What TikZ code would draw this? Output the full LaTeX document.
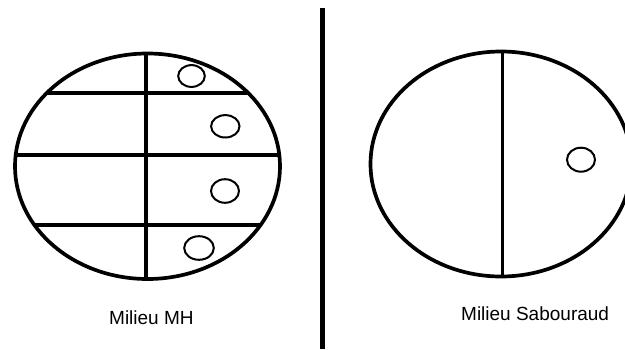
\documentclass[tikz,border=0pt]{standalone}
\usepackage{fontspec}
\setmainfont{Liberation Sans}
\begin{document}
\begin{tikzpicture}[x=1pt,y=-1pt,
  plate/.style={line width=3.7pt},
  colony/.style={line width=2pt},
  label/.style={font=\fontsize{19}{22}\selectfont, inner sep=0pt}]
\useasboundingbox (0,0) rectangle (625,349);
\fill[white] (0,0) rectangle (625,349);
% left plate (Milieu MH)
\begin{scope}
  \clip (147.5,166.25) ellipse [x radius=132.5, y radius=112.75];
  \draw[plate] (146,40) -- (146,300);
  \draw[plate] (0,93) -- (300,93);
  \draw[plate] (0,155) -- (300,155);
  \draw[plate] (0,225) -- (300,225);
\end{scope}
\draw[plate] (147.5,166.25) ellipse [x radius=132.5, y radius=112.75];
\draw[colony] (191.5,76) ellipse [x radius=13.3, y radius=10.9];
\draw[colony] (225.3,126.3) ellipse [x radius=14.2, y radius=11.2];
\draw[colony] (225,191) ellipse [x radius=14, y radius=11.8];
\draw[colony] (199,248) ellipse [x radius=14.8, y radius=11.8];
% divider
\draw[line width=4.3pt] (322.5,8) -- (322.5,349);
% right plate (Milieu Sabouraud)
\begin{scope}
  \clip (501,164) ellipse [x radius=130.5, y radius=112.5];
  \draw[plate] (502.5,40) -- (502.5,300);
\end{scope}
\draw[plate] (501,164) ellipse [x radius=130.5, y radius=112.5];
\draw[colony] (581,159.7) ellipse [x radius=14, y radius=12];
% labels
\node[label, anchor=base west] (mh) at (109,324) {Milieu MH};
\node[label, anchor=base west] (sab) at (461,320) {Milieu Sabouraud};
\end{tikzpicture}
\end{document}
